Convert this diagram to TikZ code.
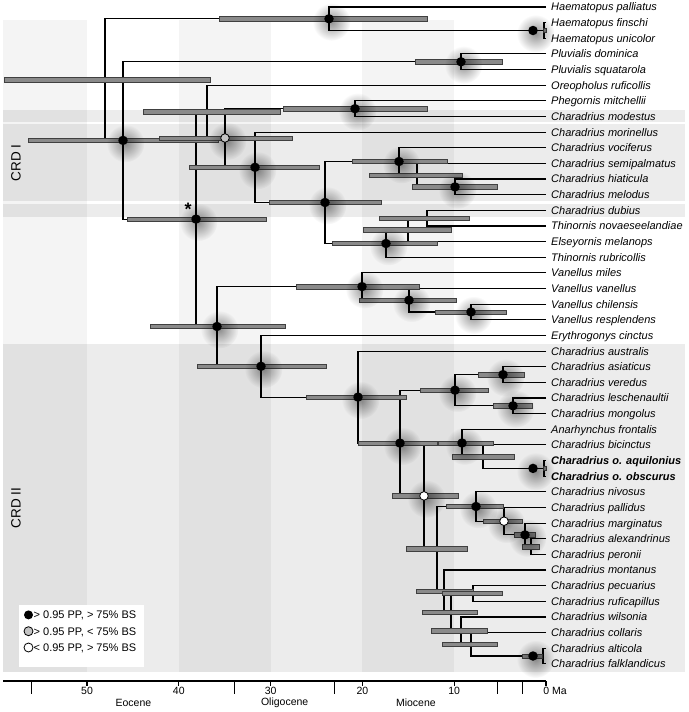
\documentclass[tikz,border=0pt]{standalone}
\usepackage{fontspec}
\setmainfont{Liberation Sans}
\usetikzlibrary{fadings}
\definecolor{barfill}{HTML}{8A8A8A}
\definecolor{bardraw}{HTML}{404040}
\definecolor{bandgray}{HTML}{ECECEC}
\definecolor{dotgray}{HTML}{C4C4C4}
\tikzfading[name=glowfade, inner color=transparent!58, outer color=transparent!100]
\pgfdeclarelayer{bg}
\pgfdeclarelayer{tree}
\pgfsetlayers{bg,tree,main}
\tikzset{
  branch/.style={line width=1.1pt, black},
  hpd/.style={fill=barfill, draw=bardraw, line width=0.5pt},
  bdot/.style={circle, fill=black, inner sep=0pt, minimum size=9.5pt},
  gdot/.style={circle, fill=dotgray, draw=black, line width=0.8pt, inner sep=0pt, minimum size=8.6pt},
  wdot/.style={circle, fill=white, draw=black, line width=0.8pt, inner sep=0pt, minimum size=8.6pt},
  glow/.style={fill=black, path fading=glowfade},
  taxon/.style={anchor=west, inner xsep=5pt, inner ysep=0pt, text height=7.9pt, text depth=0pt,
    font=\fontsize{11}{13}\selectfont\itshape},
  legtext/.style={anchor=west, inner sep=0pt, text height=7.9pt, text depth=0pt, font=\fontsize{11}{13}\selectfont},
  axisline/.style={line width=1.1pt},
  ticklab/.style={inner sep=0pt, text height=7.2pt, text depth=0pt, font=\fontsize{10.5}{12}\selectfont},
  epoch/.style={inner sep=0pt, font=\fontsize{10.5}{12}\selectfont},
  clade/.style={rotate=90, inner sep=0pt, font=\fontsize{13.5}{15}\selectfont}
}

\begin{document}
\begin{tikzpicture}[x=1pt, y=-1pt]
\useasboundingbox (0,0) rectangle (688,712);

% shaded bands (CRD I, CRD II, 10 Ma stripes)
\begin{pgfonlayer}{bg}
  \fill[bandgray] (3,109.5) rectangle (685,217);
  \fill[white] (3,122.2) rectangle (685,124.4);
  \fill[white] (3,201.4) rectangle (685,203.6);
  \fill[bandgray] (3,343.5) rectangle (685,671.5);
  \foreach \l/\r in {3/87, 178.8/270.6, 362.4/454.2}
    \fill[black, opacity=0.045] (\l,20) rectangle (\r,671.5);
\end{pgfonlayer}

% taxa
\foreach \sp [count=\i from 0] in {Haematopus palliatus, Haematopus finschi, Haematopus unicolor,
  Pluvialis dominica, Pluvialis squatarola, Oreopholus ruficollis, Phegornis mitchellii,
  Charadrius modestus, Charadrius morinellus, Charadrius vociferus, Charadrius semipalmatus,
  Charadrius hiaticula, Charadrius melodus, Charadrius dubius, Thinornis novaeseelandiae,
  Elseyornis melanops, Thinornis rubricollis, Vanellus miles, Vanellus vanellus,
  Vanellus chilensis, Vanellus resplendens, Erythrogonys cinctus, Charadrius australis,
  Charadrius asiaticus, Charadrius veredus, Charadrius leschenaultii, Charadrius mongolus,
  Anarhynchus frontalis, Charadrius bicinctus, \textbf{Charadrius o. aquilonius},
  \textbf{Charadrius o. obscurus}, Charadrius nivosus, Charadrius pallidus,
  Charadrius marginatus, Charadrius alexandrinus, Charadrius peronii, Charadrius montanus,
  Charadrius pecuarius, Charadrius ruficapillus, Charadrius wilsonia, Charadrius collaris,
  Charadrius alticola, Charadrius falklandicus}
  \node[taxon] (t\i) at (546,{7+15.64*\i}) {\sp};

% internal nodes and their age bars
\foreach \n/\x/\y/\l/\r in {Root/105/79.6/4/210, Hae/329/18.8/219/427, Hfu/544/30.5/543/546,
  A/123/140.4/28/218, Plu/461/61.8/415/502, Star/196/219.1/127/266, H/207/111.6/143/280,
  C/225/138/159/292, Phe/355/108.7/283/427, F/255/167.3/189/319, G/325/202.5/269/381,
  I/399/161.5/352/447, K/417/175.1/369/462, L/455/186.9/412/497, J/386/243.5/332/437,
  N/408/229.9/363/451, M/427/218.2/379/469, D/217/326.5/150/285, V/362/286.6/296/419,
  W/409/300.2/359/456, X/471/312/435/506, E/261/366.3/197/326, Q/358/397.1/306/406,
  R/400/443.1/358/437, S/455/390.2/420/488, AV/503/374.6/478/524, LM/513/405.8/493/532,
  T/424/495.9/392/458, U/462/443/438/493, Y/483/456.7/452/514, Z/544/468.4/543/546,
  AA/437/548.8/406/467, NG/476/506.5/446/503, OC/504/521.2/483/522, MA/525/534.9/514/535,
  AP/531/546.6/522/539, BB/444/591.1/416/473, CC/451/612.1/422/477, PR/473/593.5/442/502,
  DD/461/630.7/431/487, EE/471/644.3/442/497, FF/543/656/522/542}
{
  \coordinate (n\n) at (\x,\y);
  \draw[hpd] (\l,\y-2.2) rectangle (\r,\y+2.2);
}

% branches
\begin{pgfonlayer}{tree}
\foreach \n/\a/\b in {Root/nHae/nA, Hae/t0.west/nHfu, Hfu/t1.west/t2.west, A/nPlu/nStar,
  Plu/t3.west/t4.west, Star/nH/nD, H/t5.west/nC, C/nPhe/nF, Phe/t6.west/t7.west,
  F/t8.west/nG, G/nI/nJ, I/t9.west/nK, K/t10.west/nL, L/t11.west/t12.west, J/nN/t16.west,
  N/nM/t15.west, M/t13.west/t14.west, D/nV/nE, V/t17.west/nW, W/t18.west/nX,
  X/t19.west/t20.west, E/t21.west/nQ, Q/t22.west/nR, R/nS/nT, S/nAV/nLM,
  AV/t23.west/t24.west, LM/t25.west/t26.west, T/nU/nAA, U/t27.west/nY, Y/t28.west/nZ,
  Z/t29.west/t30.west, AA/nNG/nBB, NG/t31.west/nOC, OC/t32.west/nMA, MA/t33.west/nAP,
  AP/t34.west/t35.west, BB/t36.west/nCC, CC/nPR/nDD, PR/t37.west/t38.west,
  DD/t39.west/nEE, EE/t40.west/nFF, FF/t41.west/t42.west}
  \draw[branch] (\a) -| (n\n) |- (\b);
\end{pgfonlayer}

% support symbols
\coordinate (dHfu) at (533,30.5);
\coordinate (dZ) at (533,468.4);
\coordinate (dFF) at (533,656);
\foreach \p/\s in {nHae/bdot, dHfu/bdot, nPlu/bdot, nPhe/bdot, nA/bdot, nStar/bdot, nC/gdot,
  nF/bdot, nG/bdot, nI/bdot, nL/bdot, nJ/bdot, nD/bdot, nV/bdot, nW/bdot, nX/bdot,
  nE/bdot, nQ/bdot, nR/bdot, nS/bdot, nAV/bdot, nLM/bdot, nU/bdot, dZ/bdot, nT/wdot,
  nNG/bdot, nOC/wdot, nMA/bdot, dFF/bdot}
{
  \fill[glow] ([shift={(2.5,3)}]\p) circle (19);
  \node[\s] (s\p) at (\p) {};
}
\node[font=\fontsize{18}{18}\selectfont\bfseries, inner sep=0pt] (asterisk) at (188,209.5) {*};

% clade labels
\node[clade] (crdI) at (16,163) {CRD I};
\node[clade] (crdII) at (16,508) {CRD II};

% legend
\fill[white] (19,605) rectangle (144,667);
\foreach \s/\txt [count=\k] in {bdot/{> 0.95 PP, > 75\% BS}, gdot/{> 0.95 PP, < 75\% BS},
  wdot/{< 0.95 PP, > 75\% BS}}
{
  \node[\s, minimum size=9pt] (legdot\k) at (28.5,{598.6+16.3*\k}) {};
  \node[legtext] (leg\k) at (33.5,{598.6+16.3*\k}) {\txt};
}

% time axis
\draw[axisline] (3,681) -- (546,681);
\foreach \t in {56,33.9,23.03,5.33,2.58}
  \draw[axisline] ({546-9.18*\t},681) -- ++(0,13);
\foreach \t in {0,10,...,50}
  \draw[axisline] ({546-9.18*\t},681) -- ++(0,4.5);
\foreach \t in {10,20,...,50}
  \node[ticklab] (tick\t) at ({546-9.18*\t},690.5) {\t};
\node[ticklab, anchor=west] (tick0) at (543.2,690.5) {0 Ma};
\node[epoch] (eocene) at (133.4,703) {Eocene};
\node[epoch] (oligocene) at (284.7,703) {Oligocene};
\node[epoch] (miocene) at (415.9,703) {Miocene};
\end{tikzpicture}
\end{document}
